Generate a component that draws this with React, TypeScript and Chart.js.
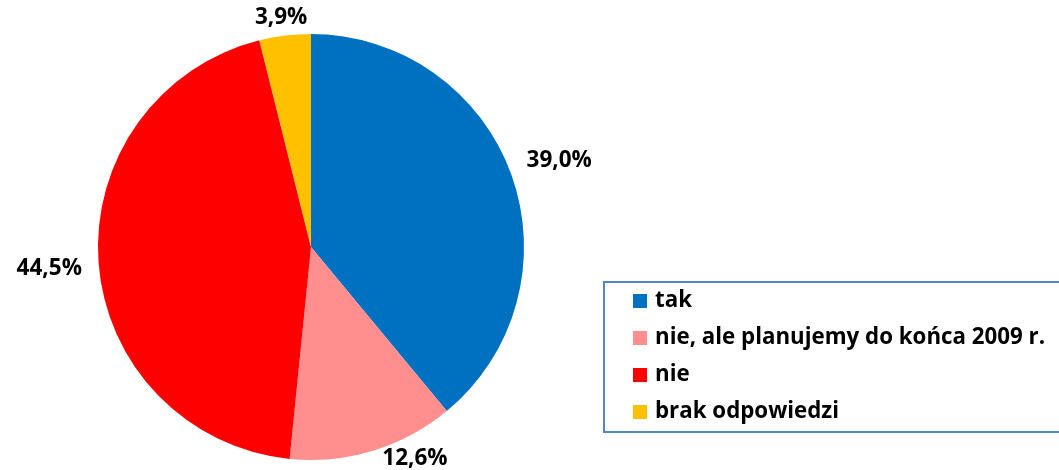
import React, { useEffect, useRef } from "react";
import { Chart, registerables } from "chart.js";

Chart.register(...registerables);

const categories = ["tak", "nie, ale planujemy do końca 2009 r.", "nie", "brak odpowiedzi"];
const values = [39.0, 12.6, 44.5, 3.9];
const colors = ["#0070C0", "#FF8F8F", "#FF0000", "#FFC000"];

const W = 1059;
const H = 470;
const FONT_FAMILY = "'Open Sans', 'Noto Sans', sans-serif";
const LABEL_FONT = `bold 22.5px ${FONT_FAMILY}`;
const LEGEND_FONT = `bold 22.3px ${FONT_FAMILY}`;

const fmt = (v: number) => v.toFixed(1).replace(".", ",") + "%";

const outsideLabels = {
  id: "outsideLabels",
  afterDatasetsDraw(chart: any) {
    const ctx = chart.ctx as CanvasRenderingContext2D;
    const meta = chart.getDatasetMeta(0);
    ctx.save();
    ctx.font = LABEL_FONT;
    ctx.fillStyle = "#000";
    ctx.textAlign = "center";
    ctx.textBaseline = "middle";
    const gap = 16;
    meta.data.forEach((arc: any, i: number) => {
      const { x: cx, y: cy, outerRadius: r, startAngle, endAngle } = arc.getProps(
        ["x", "y", "outerRadius", "startAngle", "endAngle"],
        true
      );
      const mid = (startAngle + endAngle) / 2;
      const dx = Math.cos(mid);
      const dy = Math.sin(mid);
      const text = fmt(values[i]);
      const hw = ctx.measureText(text).width / 2;
      const hh = 12;
      const proj = hw * Math.abs(dx) + hh * Math.abs(dy);
      let lx = cx + dx * (r + gap + proj);
      let ly = cy + dy * (r + gap + proj) + 3;
      let clamped = false;
      if (ly + hh > H + 1) {
        ly = H + 1 - hh;
        clamped = true;
      }
      if (ly - hh < 6) {
        ly = 6 + hh;
        clamped = true;
      }
      if (clamped) {
        const nearY = Math.abs(ly - cy) - hh;
        if (nearY < r) {
          const half = Math.sqrt(r * r - nearY * nearY);
          const minOff = half + hw - 2;
          const off = lx - cx;
          if (Math.abs(off) < minOff) lx = cx + Math.sign(off || 1) * minOff;
        }
      }
      ctx.fillText(text, lx, ly);
    });
    ctx.restore();
  },
};

const boxLegend = {
  id: "boxLegend",
  afterDraw(chart: any) {
    const ctx = chart.ctx as CanvasRenderingContext2D;
    const left = 604;
    const top = 282;
    const boxH = 150;
    const rowH = 37;
    ctx.save();
    ctx.strokeStyle = "#4F86CF";
    ctx.lineWidth = 2;
    ctx.strokeRect(left, top, W + 10 - left, boxH);
    ctx.font = LEGEND_FONT;
    ctx.textBaseline = "middle";
    ctx.textAlign = "left";
    const labels: string[] = chart.data.labels;
    const bg: string[] = chart.data.datasets[0].backgroundColor;
    labels.forEach((lab, i) => {
      const cy = top + 19 + i * rowH;
      ctx.fillStyle = bg[i];
      ctx.fillRect(633, cy - 7, 14, 14);
      ctx.fillStyle = "#000";
      ctx.fillText(lab, 655, cy);
    });
    ctx.restore();
  },
};

export default function App() {
  const ref = useRef<HTMLCanvasElement>(null);
  useEffect(() => {
    if (!ref.current) return;
    const chart = new Chart(ref.current, {
      type: "pie",
      data: {
        labels: categories,
        datasets: [
          {
            data: values,
            backgroundColor: colors,
            borderWidth: 0,
          },
        ],
      },
      options: {
        responsive: false,
        animation: false,
        layout: { padding: { left: 98, right: W - 524, top: 34, bottom: H - 460 } },
        plugins: {
          legend: { display: false },
          tooltip: { enabled: false },
        },
      },
      plugins: [outsideLabels, boxLegend],
    });
    return () => chart.destroy();
  }, []);
  return (
    <div style={{ position: "absolute", left: 0, top: 0, width: W, height: H, background: "#fff" }}>
      <canvas ref={ref} width={W} height={H} style={{ display: "block" }} />
    </div>
  );
}
